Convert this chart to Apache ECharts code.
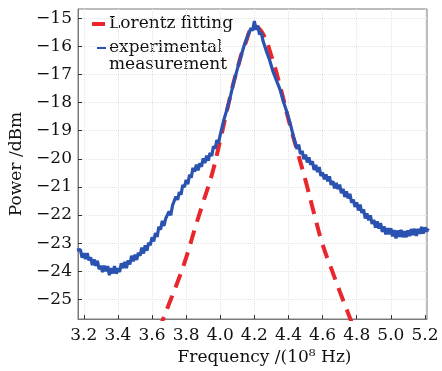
<!DOCTYPE html>
<html>
<head>
<meta charset="utf-8">
<script src="https://cdn.jsdelivr.net/npm/echarts@6/dist/echarts.min.js"></script>
<style>
  html, body { margin: 0; padding: 0; background: #fff; }
  #chart { width: 442px; height: 371px; }
</style>
</head>
<body>
<div id="chart"></div>
<script>
// tick positions
const xTicks = [3.2, 3.4, 3.6, 3.8, 4.0, 4.2, 4.4, 4.6, 4.8, 5.0, 5.2];
const yTicks = [-25, -24, -23, -22, -21, -20, -19, -18, -17, -16, -15];

// Lorentz fit (red dashed)
const fitFreq = [3.64, 3.66, 3.70, 3.75, 3.80, 3.85, 3.90, 3.95, 4.00, 4.05, 4.10, 4.15, 4.20,
  4.25, 4.30, 4.35, 4.40, 4.45, 4.50, 4.55, 4.60, 4.65, 4.70, 4.75, 4.78];
const fitPower = [-26.10, -25.78, -25.16, -24.38, -23.52, -22.51, -21.54, -20.58, -19.33, -18.00, -16.80, -15.85, -15.28,
  -15.55, -16.35, -17.40, -18.60, -19.70, -20.77, -21.95, -23.05, -23.89, -24.71, -25.50, -25.98];

// experimental trace (blue), noisy, read every 0.01
const measFreq = [
  3.16, 3.17, 3.18, 3.19, 3.20, 3.21, 3.22, 3.23, 3.24, 3.25, 3.26, 3.27, 3.28, 3.29,
  3.30, 3.31, 3.32, 3.33, 3.34, 3.35, 3.36, 3.37, 3.38, 3.39, 3.40, 3.41, 3.42, 3.43, 3.44,
  3.45, 3.46, 3.47, 3.48, 3.49, 3.50, 3.51, 3.52, 3.53, 3.54, 3.55, 3.56, 3.57, 3.58, 3.59,
  3.60, 3.61, 3.62, 3.63, 3.64, 3.65, 3.66, 3.67, 3.68, 3.69, 3.70, 3.71, 3.72, 3.73, 3.74,
  3.75, 3.76, 3.77, 3.78, 3.79, 3.80, 3.81, 3.82, 3.83, 3.84, 3.85, 3.86, 3.87, 3.88, 3.89,
  3.90, 3.91, 3.92, 3.93, 3.94, 3.95, 3.96, 3.97, 3.98, 3.99, 4.00, 4.01, 4.02, 4.03, 4.04,
  4.05, 4.06, 4.07, 4.08, 4.09, 4.10, 4.11, 4.12, 4.13, 4.14, 4.15, 4.16, 4.17, 4.18, 4.19,
  4.20, 4.21, 4.22, 4.23, 4.24, 4.25, 4.26, 4.27, 4.28, 4.29, 4.30, 4.31, 4.32, 4.33, 4.34,
  4.35, 4.36, 4.37, 4.38, 4.39, 4.40, 4.41, 4.42, 4.43, 4.44, 4.45, 4.46, 4.47, 4.48, 4.49,
  4.50, 4.51, 4.52, 4.53, 4.54, 4.55, 4.56, 4.57, 4.58, 4.59, 4.60, 4.61, 4.62, 4.63, 4.64,
  4.65, 4.66, 4.67, 4.68, 4.69, 4.70, 4.71, 4.72, 4.73, 4.74, 4.75, 4.76, 4.77, 4.78, 4.79,
  4.80, 4.81, 4.82, 4.83, 4.84, 4.85, 4.86, 4.87, 4.88, 4.89, 4.90, 4.91, 4.92, 4.93, 4.94,
  4.95, 4.96, 4.97, 4.98, 4.99, 5.00, 5.01, 5.02, 5.03, 5.04, 5.05, 5.06, 5.07, 5.08, 5.09,
  5.10, 5.11, 5.12, 5.13, 5.14, 5.15, 5.16, 5.17, 5.18, 5.19, 5.20, 5.21, 5.22
];
const measPower = [
  -23.25, -23.30, -23.23, -23.52, -23.36, -23.57, -23.36, -23.61, -23.51, -23.78, -23.58, -23.81, -23.63, -23.93,
  -23.80, -24.03, -23.80, -24.00, -23.82, -24.14, -23.89, -24.08, -23.82, -24.09, -23.89, -24.03, -23.72, -23.89, -23.67,
  -23.89, -23.61, -23.76, -23.45, -23.65, -23.41, -23.60, -23.34, -23.45, -23.16, -23.37, -23.08, -23.27, -22.99, -23.07,
  -22.79, -22.94, -22.64, -22.78, -22.42, -22.52, -22.21, -22.39, -22.13, -22.19, -21.87, -22.01, -21.66, -21.70, -21.34,
  -21.46, -21.18, -21.28, -20.93, -21.01, -20.75, -20.90, -20.57, -20.67, -20.32, -20.46, -20.21, -20.41, -20.16, -20.28,
  -19.98, -20.15, -19.89, -20.07, -19.79, -19.90, -19.55, -19.64, -19.33, -19.44, -19.14, -19.08, -18.64, -18.61, -18.23,
  -18.21, -17.76, -17.70, -17.25, -17.23, -16.81, -16.80, -16.38, -16.37, -15.97, -15.98, -15.63, -15.70, -15.35, -15.44,
  -15.10, -15.41, -15.26, -15.58, -15.49, -15.79, -15.78, -16.16, -16.12, -16.50, -16.52, -16.91, -16.86, -17.22, -17.15,
  -17.53, -17.53, -17.96, -17.95, -18.33, -18.28, -18.74, -18.76, -19.23, -19.26, -19.65, -19.49, -19.83, -19.72, -20.01,
  -19.85, -20.13, -19.95, -20.21, -20.09, -20.40, -20.22, -20.47, -20.29, -20.61, -20.49, -20.73, -20.55, -20.80, -20.62,
  -20.93, -20.79, -21.05, -20.86, -21.08, -20.92, -21.22, -21.07, -21.36, -21.16, -21.41, -21.25, -21.56, -21.45, -21.71,
  -21.55, -21.84, -21.63, -21.93, -21.80, -22.12, -21.94, -22.19, -22.01, -22.32, -22.17, -22.45, -22.23, -22.48, -22.29,
  -22.60, -22.40, -22.69, -22.47, -22.69, -22.47, -22.76, -22.54, -22.83, -22.55, -22.78, -22.53, -22.79, -22.58, -22.79,
  -22.55, -22.75, -22.50, -22.71, -22.49, -22.74, -22.49, -22.67, -22.42, -22.66, -22.44, -22.58, -22.48
];

const fitData = fitFreq.map((f, i) => [f, fitPower[i]]);
const measData = measFreq.map((f, i) => [f, measPower[i]]);

const serif = "DejaVu Serif";
const red = "#e8262b";
const blue = "#2a52b0";
const minus = v => (v < 0 ? "\u2212" + Math.abs(v) : String(v));

const chart = echarts.init(document.getElementById("chart"));
chart.setOption({
  animation: false,
  backgroundColor: "#fff",
  grid: {
    left: 78,
    right: 15,
    top: 9,
    bottom: 48,
    show: true,
    borderColor: "#7a7a7a",
    borderWidth: 1
  },
  // legend drawn by hand: short thick red dash, thin blue dash, wrapped label
  graphic: [
    { type: "rect", left: 92, top: 22, shape: { width: 13, height: 4 }, style: { fill: red } },
    { type: "rect", left: 97, top: 47, shape: { width: 9, height: 2 }, style: { fill: blue } },
    { type: "text", left: 109, top: 15, style: { text: "Lorentz fitting", fontFamily: serif, fontSize: 17, fill: "#111" } },
    { type: "text", left: 109, top: 39, style: { text: "experimental", fontFamily: serif, fontSize: 17, fill: "#111" } },
    { type: "text", left: 109, top: 56, style: { text: "measurement", fontFamily: serif, fontSize: 17, fill: "#111" } }
  ],
  xAxis: {
    type: "value",
    min: 3.166,
    max: 5.212,
    name: "Frequency /(10\u2078 Hz)",
    nameLocation: "middle",
    nameGap: 30,
    nameTextStyle: { fontFamily: serif, fontSize: 17, color: "#111", padding: [0, 0, 0, 24] },
    axisLine: { lineStyle: { color: "#7a7a7a" } },
    axisTick: { inside: true, length: 4, customValues: xTicks, lineStyle: { color: "#333" } },
    axisLabel: {
      customValues: xTicks,
      formatter: v => v.toFixed(1),
      fontFamily: serif,
      fontSize: 17,
      color: "#111",
      margin: 8
    },
    splitLine: { show: true, lineStyle: { color: "#e4e4e4", type: "dotted", width: 1 } }
  },
  yAxis: {
    type: "value",
    min: -25.7,
    max: -14.67,
    name: "Power /dBm",
    nameLocation: "middle",
    nameGap: 47,
    nameRotate: 90,
    nameTextStyle: { fontFamily: serif, fontSize: 17, color: "#111" },
    axisLine: { show: true, lineStyle: { color: "#7a7a7a" } },
    axisTick: { show: true, inside: true, length: 4, customValues: yTicks, lineStyle: { color: "#333" } },
    axisLabel: {
      customValues: yTicks,
      formatter: minus,
      fontFamily: serif,
      fontSize: 17,
      color: "#111",
      margin: 6
    },
    splitLine: { show: true, lineStyle: { color: "#e4e4e4", type: "dotted", width: 1 } }
  },
  series: [
    {
      name: "Lorentz fitting",
      type: "line",
      data: fitData,
      smooth: true,
      showSymbol: false,
      clip: true,
      z: 2,
      lineStyle: { color: red, width: 4, type: [14, 9] },
      itemStyle: { color: red }
    },
    {
      name: "experimental measurement",
      type: "line",
      data: measData,
      showSymbol: false,
      clip: true,
      z: 3,
      lineStyle: { color: blue, width: 3.2 },
      itemStyle: { color: blue }
    }
  ]
});
</script>
</body>
</html>
